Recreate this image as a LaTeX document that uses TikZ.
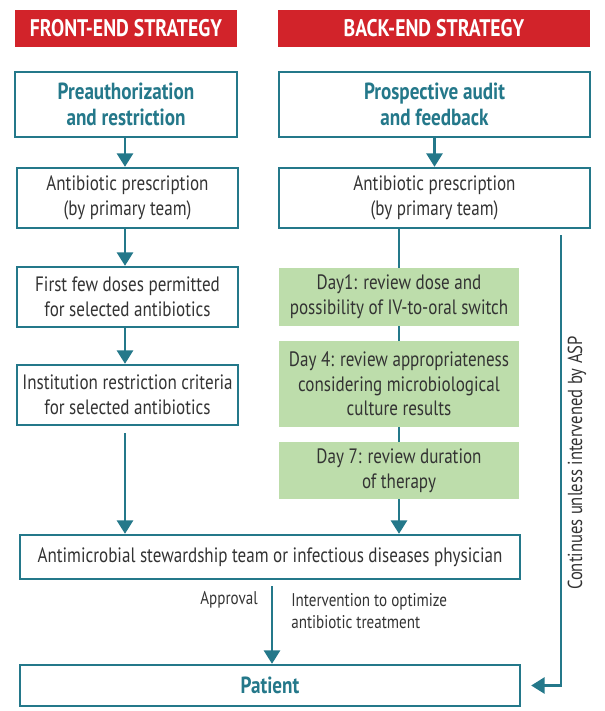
\documentclass[tikz,border=0pt]{standalone}
\usepackage{fontspec}
\setmainfont{PT Sans}[FakeStretch=0.82]
\usetikzlibrary{arrows.meta}
\definecolor{aspred}{HTML}{D2232A}
\definecolor{aspteal}{HTML}{24788A}
\definecolor{aspgreen}{HTML}{BDDDAB}
\definecolor{asptext}{HTML}{333333}
\newdimen\px \px=0.75pt

\begin{document}
\begin{tikzpicture}[x=0.75pt,y=-0.75pt,
  header/.style={fill=aspred,text=white,font=\fontsize{18}{21}\selectfont\bfseries,
    minimum height=37\px,inner sep=0pt},
  stepbox/.style={draw=aspteal,line width=1.8pt,fill=white,text=asptext,align=center,
    font=\fontsize{15.6}{18.5}\selectfont,minimum height=60\px,inner sep=0pt},
  titlebox/.style={stepbox,text=aspteal,font=\fontsize{17.5}{19}\selectfont\bfseries,minimum height=65\px},
  daybox/.style={fill=aspgreen,text=asptext,align=center,font=\fontsize{15.6}{18.5}\selectfont,
    minimum width=240\px,inner sep=0pt},
  flow/.style={draw=aspteal,line width=1.8pt,-{Triangle[width=12pt,length=10pt]}},
  plainflow/.style={draw=aspteal,line width=1.8pt},
  lbl/.style={text=asptext,font=\fontsize{13.8}{16.5}\selectfont,inner sep=0pt}]
\useasboundingbox (0,0) rectangle (604,711);

% headers
\path (126,28.5) node[header,minimum width=222\px] (FH) {FRONT-END STRATEGY};
\path (434,28.5) node[header,minimum width=312\px] (BH) {BACK-END STRATEGY};

% front-end strategy
\path (126,104.5) node[titlebox,minimum width=222\px] (PA) {Preauthorization\\and restriction};
\path (127.5,198) node[stepbox,minimum width=221\px] (LP) {Antibiotic prescription\\(by primary team)};
\path (127.5,297) node[stepbox,minimum width=221\px] (FD) {First few doses permitted\\for selected antibiotics};
\path (127.5,395) node[stepbox,minimum width=221\px] (IR) {Institution restriction criteria\\for selected antibiotics};
\draw[flow] (PA.south -| 125,0) -- (LP.north -| 125,0);
\draw[flow] (LP.south -| 125,0) -- (FD.north -| 125,0);
\draw[flow] (FD.south -| 125,0) -- (IR.north -| 125,0);

% back-end strategy
\path (434.5,104.5) node[titlebox,minimum width=311\px] (PF) {Prospective audit\\and feedback};
\path (434.5,198) node[stepbox,minimum width=311\px] (RP) {Antibiotic prescription\\(by primary team)};
\draw[flow] (PF) -- (RP);
\path (399,297) node[daybox,minimum height=58\px] (D1) {Day1: review dose and\\possibility of IV-to-oral switch};
\path (399,384) node[daybox,minimum height=86\px] (D4) {Day 4: review appropriateness\\considering microbiological\\culture results};
\path (399,470.5) node[daybox,minimum height=57\px] (D7) {Day 7: review duration\\of therapy};
\draw[plainflow] (RP.south -| D1) -- (D1);
\draw[plainflow] (D1) -- (D4);
\draw[plainflow] (D4) -- (D7);

% stewardship team and patient
\path (270,557) node[stepbox,minimum width=500\px,minimum height=44\px] (AS) {Antimicrobial stewardship team or infectious diseases physician};
\path (270,685.5) node[titlebox,minimum width=500\px,minimum height=41\px] (PT) {Patient};
\draw[flow] (IR.south -| 125,0) ++(0,7) -- (AS.north -| 125,0);
\draw[flow] (D7) -- (AS.north -| D7);
\draw[flow] (AS.south -| 272,0) ++(0,6) -- (PT.north -| 272,0);
\path (258,600) node[lbl,anchor=east] (AP) {Approval};
\path (291,611) node[lbl,anchor=west,align=left] (IN) {Intervention to optimize\\antibiotic treatment};

% continuation path
\coordinate (CT) at (561,235);
\draw[flow] (CT) |- ([xshift=10\px]PT.east);
\path (577,463) node[lbl,rotate=90,font=\fontsize{15.2}{18}\selectfont] (CU) {Continues unless intervened by ASP};
\end{tikzpicture}
\end{document}
